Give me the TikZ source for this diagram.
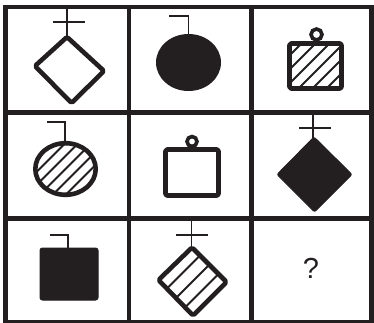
\documentclass[tikz,border=0pt]{standalone}
\usepackage{fontspec}
\setmainfont{Liberation Sans}
\definecolor{ink}{HTML}{231F20}
\begin{document}
\begin{tikzpicture}[x=1pt,y=-1pt,
  gridline/.style={ink,line width=4.5pt},
  outline/.style={ink,line width=4.6pt,line join=round,rounded corners=1.5pt},
  thinline/.style={ink,line width=1.8pt},
  hatch/.style={ink,line width=1.8pt},
  ring/.style={ink,line width=3.6pt},
  solid/.style={fill=ink,draw=ink,line width=1pt,line join=round}]
\useasboundingbox (0,0) rectangle (374,323);
\fill[white] (0,0) rectangle (374,323);
% grid
\draw[gridline] (5.5,7) rectangle (371.5,322);
\draw[gridline] (129,7) -- (129,322);
\draw[gridline] (251.5,7) -- (251.5,322);
\draw[gridline] (5.5,112.5) -- (371.5,112.5);
\draw[gridline] (5.5,218.5) -- (371.5,218.5);

% row 1, col 1: white diamond with cross
\coordinate (d1t) at (67,37);
\draw[thinline] (67,9) -- (d1t);
\draw[thinline] (53,22) -- (85,22);
\draw[outline] (d1t) -- (104,71) -- (71.5,103) -- (35,66) -- cycle;

% row 1, col 2: black ellipse with hook
\fill[ink] (188.5,62.5) ellipse [x radius=32.5, y radius=28.5];
\draw[thinline] (188.5,35) -- (188.5,16) -- (169,16);

% row 1, col 3: hatched square with ring
\begin{scope}
  \clip (289,43) rectangle (342,89);
  \foreach \c in {345,359,373,387,401,415}
    \draw[hatch] (\c-100,100) -- (\c-30,30);
\end{scope}
\draw[outline] (289.5,43.5) rectangle (341.5,88.5);
\draw[ring] (316.5,34.5) circle [radius=5.5];

% row 2, col 1: hatched ellipse with hook
\begin{scope}
  \clip (65.5,169) ellipse [x radius=30.5, y radius=26];
  \foreach \k in {-2,...,2}
    \draw[hatch] ({234.5+13*\k-240},240) -- ({234.5+13*\k-120},120);
\end{scope}
\draw[ink,line width=4.6pt] (65.5,169) ellipse [x radius=30.2, y radius=25.8];
\draw[thinline] (65,143) -- (65,122) -- (47,122);

% row 2, col 2: white square with ring
\draw[outline] (165.5,149.5) rectangle (218.5,195.5);
\draw[ring] (192,141.5) circle [radius=5];

% row 2, col 3: black diamond with cross
\draw[thinline] (313,115) -- (313,140);
\draw[thinline] (299,128) -- (331,128);
\filldraw[solid,rounded corners=2pt] (314,137) -- (352,174.5) -- (314.5,212) -- (277,174.5) -- cycle;

% row 3, col 1: black square with hook
\filldraw[solid,rounded corners=2.5pt] (40,248) rectangle (98,300);
\draw[thinline] (68,249) -- (68,235) -- (50,235);

% row 3, col 2: striped diamond with cross
\draw[thinline] (191.5,220) -- (191.5,247);
\draw[thinline] (176,235) -- (208,235);
\begin{scope}
  \clip (192,247) -- (227,282) -- (193,316) -- (158,280) -- cycle;
  \foreach \c in {455.5,474,492.5}
    \draw[hatch] (\c-330,330) -- (\c-230,230);
\end{scope}
\draw[outline] (192,247.5) -- (226.5,282) -- (193,315.5) -- (158.5,280) -- cycle;

% row 3, col 3: question mark
\node[text=ink,font=\fontsize{29}{33}\selectfont] (q) at (311,268) {?};
\end{tikzpicture}
\end{document}
